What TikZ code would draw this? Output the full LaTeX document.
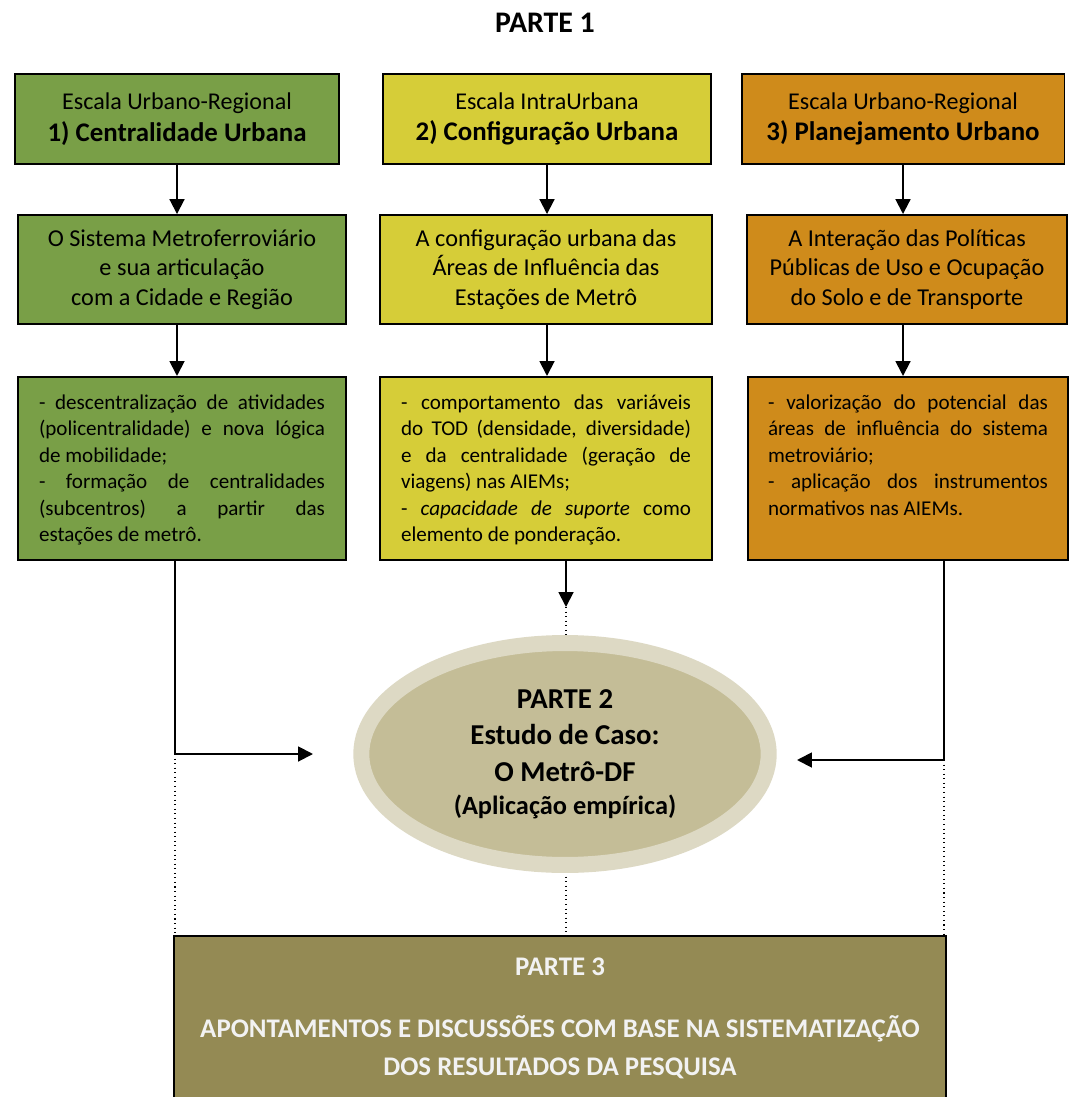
\documentclass[tikz,border=0pt]{standalone}
\usepackage{fontspec}
\setmainfont{Carlito}
\usetikzlibrary{shapes.geometric,arrows.meta}
\definecolor{verde}{RGB}{121,159,71}
\definecolor{amarelo}{RGB}{214,205,56}
\definecolor{laranja}{RGB}{207,139,27}
\definecolor{tanclaro}{RGB}{221,217,196}
\definecolor{tanescuro}{RGB}{196,189,151}
\definecolor{oliva}{RGB}{148,138,84}
\definecolor{quasebranco}{RGB}{242,242,242}

\begin{document}
\begin{tikzpicture}[x=0.02cm, y=-0.02cm,
  caixa/.style={draw, line width=1.1pt, inner sep=0pt},
  topo/.style={caixa, align=center, minimum height=1.8cm, font=\fontsize{13.7}{18}\selectfont},
  meio/.style={caixa, align=center, minimum height=2.18cm, font=\fontsize{13.8}{16.7}\selectfont},
  lista/.style={caixa, anchor=north, inner ysep=0.36cm, font=\fontsize{12}{15}\selectfont},
  seta/.style={line width=1.1pt, -{Triangle[length=8.5pt,width=8.5pt]}},
  ponto/.style={line width=0.6pt, dotted}]

\useasboundingbox (0,0) rectangle (1074,1097);

\draw(545,22.5) node[font=\fontsize{17}{20}\selectfont\bfseries] (p1) {PARTE 1};

\draw(177,119) node[topo, fill=verde, minimum width=6.47cm] (t1) {Escala Urbano-Regional\\{\fontsize{15.3}{18}\selectfont\bfseries 1) Centralidade Urbana}};
\draw(547,119) node[topo, fill=amarelo, minimum width=6.56cm] (t2) {Escala IntraUrbana\\{\fontsize{15.3}{18}\selectfont\bfseries 2) Configuração Urbana}};
\draw(903,119) node[topo, fill=laranja, minimum width=6.46cm] (t3) {Escala Urbano-Regional\\{\fontsize{15.3}{18}\selectfont\bfseries 3) Planejamento Urbano}};

\draw(182,269.5) node[meio, fill=verde, minimum width=6.56cm] (m1) {O Sistema Metroferroviário\\e sua articulação\\com a Cidade e Região};
\draw(546,269.5) node[meio, fill=amarelo, minimum width=6.64cm] (m2) {A configuração urbana das\\Áreas de Influência das\\Estações de Metrô};
\draw(907,269.5) node[meio, fill=laranja, minimum width=6.4cm] (m3) {A Interação das Políticas\\Públicas de Uso e Ocupação\\do Solo e de Transporte};

\draw(182,376) node[lista, fill=verde, inner xsep=0.42cm] (b1) {\parbox[t][2.95cm][t]{5.72cm}{- descentralização de atividades\linebreak (policentralidade) e nova lógica\linebreak de mobilidade;\\- formação de centralidades\linebreak (subcentros) a partir das\linebreak estações de metrô.}};
\draw(546,376) node[lista, fill=amarelo, inner xsep=0.42cm] (b2) {\parbox[t][2.95cm][t]{5.8cm}{- comportamento das variáveis\linebreak do TOD (densidade, diversidade)\linebreak e da centralidade (geração de\linebreak viagens) nas AIEMs;\\- \textit{capacidade de suporte} como\linebreak elemento de ponderação.}};
\draw(908,376) node[lista, fill=laranja, inner xsep=0.4cm] (b3) {\parbox[t][2.95cm][t]{5.6cm}{- valorização do potencial das\linebreak áreas de influência do sistema\linebreak metroviário;\\- aplicação dos instrumentos\linebreak normativos nas AIEMs.}};

\draw[seta] (t1) -- (t1 |- m1.north);
\draw[seta] (m1.south -| t1) -- (t1 |- b1.north);
\draw[seta] (t2) -- (t2 |- m2.north);
\draw[seta] (m2.south -| t2) -- (t2 |- b2.north);
\draw[seta] (t3) -- (t3 |- m3.north);
\draw[seta] (m3.south -| t3) -- (t3 |- b3.north);

\draw(560,935) node[caixa, fill=oliva, anchor=north, inner xsep=0pt, inner ysep=0.43cm, text=quasebranco, font=\fontsize{15.3}{21.5}\selectfont\bfseries] (p3) {\parbox[t][3.5cm][t]{15.44cm}{\centering PARTE 3\\[14.2pt]APONTAMENTOS E DISCUSSÕES COM BASE NA SISTEMATIZAÇÃO\\DOS RESULTADOS DA PESQUISA}};

\coordinate (d1) at (175,754);
\coordinate (e1) at (313,754);
\coordinate (e2) at (566,607);
\coordinate (d3) at (944,760);
\coordinate (e3) at (797,760);
\draw[seta] (b1.south -| d1) -- (d1) -- (e1);
\draw[seta] (b2.south -| e2) -- (e2);
\draw[seta] (b3.south -| d3) -- (d3) -- (e3);
\draw[ponto] (d1) -- (d1 |- p3.north);
\draw[ponto] (e2) -- (e2 |- p3.north);
\draw[ponto] (d3) -- (d3 |- p3.north);

\draw(565,754) node[ellipse, fill=tanescuro, draw=tanclaro, line width=0.32cm, minimum width=8.15cm, minimum height=4.44cm, inner sep=0pt, align=center, font=\fontsize{16.4}{20.7}\selectfont\bfseries] (p2) {PARTE 2\\Estudo de Caso:\\O Metrô-DF\\[-2pt]{\fontsize{15}{18.7}\selectfont(Aplicação empírica)}};

\end{tikzpicture}
\end{document}
